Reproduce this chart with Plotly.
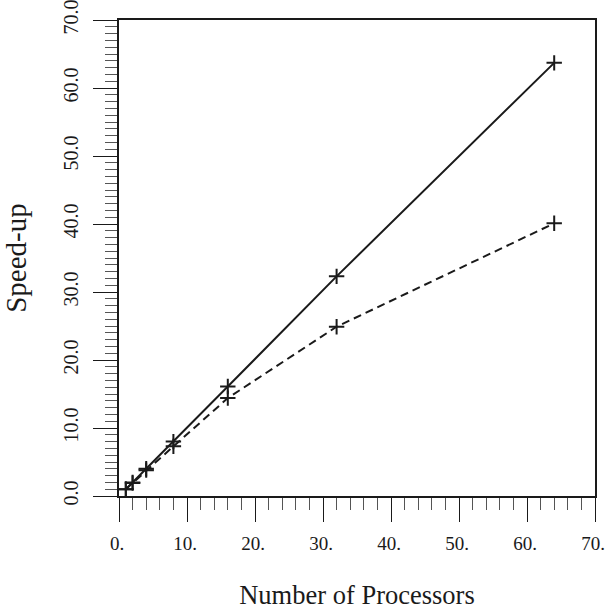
import plotly.graph_objects as go

processors = [1, 2, 4, 8, 16, 32, 64]
speedup_ideal = [1.0, 2.0, 4.0, 8.0, 16.1, 32.3, 63.7]
speedup_measured = [1.0, 1.9, 3.8, 7.3, 14.4, 24.9, 40.1]

x_tickvals = [0, 10, 20, 30, 40, 50, 60, 70]
x_ticktext = ["0.", "10.", "20.", "30.", "40.", "50.", "60.", "70."]
y_tickvals = [0, 10, 20, 30, 40, 50, 60, 70]
y_ticktext = ["0.0", "10.0", "20.0", "30.0", "40.0", "50.0", "60.0", "70.0"]

FONT = "Liberation Serif, Times New Roman, serif"
INK = "#1a1a1a"

fig = go.Figure()
fig.add_trace(go.Scatter(
    x=processors, y=speedup_ideal, mode="lines+markers",
    line=dict(color=INK, width=2, dash="solid"),
    marker=dict(symbol="cross-thin", size=11, line=dict(color=INK, width=2)),
    showlegend=False,
))
fig.add_trace(go.Scatter(
    x=processors, y=speedup_measured, mode="lines+markers",
    line=dict(color=INK, width=2, dash="8px,5px"),
    marker=dict(symbol="cross-thin", size=11, line=dict(color=INK, width=2)),
    showlegend=False,
))

axis_common = dict(
    showgrid=False, zeroline=False, showline=True, mirror=True,
    linecolor=INK, linewidth=1.5,
    ticks="outside", ticklen=24, tickwidth=1.2, tickcolor=INK,
    ticklabeloverflow="allow",
    automargin=False,
)

fig.update_layout(
    width=605, height=613,
    margin=dict(l=119, r=10, t=20, b=117),
    paper_bgcolor="white", plot_bgcolor="white",
    font=dict(family=FONT, color=INK),
    xaxis=dict(
        range=[0, 70], tickmode="array", tickvals=x_tickvals, ticktext=x_ticktext,
        tickfont=dict(family=FONT, size=19, color=INK),
        ticklabelshift=-2,
        minor=dict(dtick=2, ticklen=12, tickwidth=1, tickcolor="#555", ticks="outside", showgrid=False),
        ticklabelstandoff=5,
        title=dict(text="Number of Processors", font=dict(family=FONT, size=26.5, color=INK), standoff=33),
        **axis_common,
    ),
    yaxis=dict(
        range=[0, 70], tickmode="array", tickvals=y_tickvals, ticktext=y_ticktext,
        tickfont=dict(family=FONT, size=20, color=INK),
        tickangle=-90,
        minor=dict(dtick=1, ticklen=12, tickwidth=1, tickcolor="#555", ticks="outside", showgrid=False),
        ticklabelstandoff=7,
        title=dict(text="Speed-up", font=dict(family=FONT, size=29, color=INK), standoff=33),
        **axis_common,
    ),
)

fig.write_html(
    "out.html",
    config={"displayModeBar": False},
    post_script="document.body.style.margin='0';document.body.style.overflow='hidden';",
)
